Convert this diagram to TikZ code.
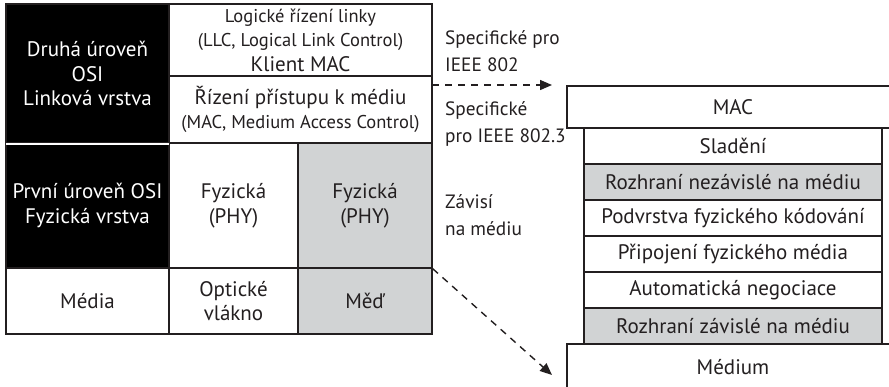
\documentclass[tikz,border=0pt]{standalone}
\usepackage{fontspec}
\setmainfont{PT Sans}
\usetikzlibrary{arrows.meta}
\definecolor{phygray}{RGB}{209,211,212}
\definecolor{inkgray}{RGB}{35,31,32}
\newcommand{\bigtxt}{\fontsize{21}{24.5}\selectfont}
\newcommand{\smalltxt}{\fontsize{18.5}{24}\selectfont}
\tikzset{
  cell/.style={draw=inkgray,line width=1.5pt,rectangle,inner sep=0pt,align=center,text=inkgray,font=\bigtxt},
  osicell/.style={cell,fill=black,text=white},
  graycell/.style={cell,fill=phygray},
  layer/.style={draw=inkgray,line width=1.2pt,rectangle,inner sep=0pt,minimum width=298pt,minimum height=36pt,text=inkgray,font=\bigtxt},
  graylayer/.style={layer,fill=phygray},
  endlayer/.style={layer,minimum width=332pt},
  note/.style={anchor=west,align=left,inner sep=0pt,text=inkgray,font=\fontsize{19.3}{27}\selectfont},
  dasharrow/.style={draw=inkgray,line width=1.4pt,dash pattern=on 7pt off 6pt,-{Triangle[length=12pt,width=10pt]}}
}
\begin{document}
\begin{tikzpicture}[x=1pt,y=-1pt]
\clip (0,0) rectangle (889,386);
\fill[white] (0,0) rectangle (889,386);
% OSI table
  \node[osicell,minimum width=163pt,minimum height=139pt] (osi2) at (87.5,73.5) {Druhá úroveň\\OSI\\Linková vrstva};
  \node[cell,minimum width=263pt,minimum height=72pt] (llc) at (300.5,40) {{\smalltxt Logické řízení linky}\\{\smalltxt (LLC, Logical Link Control)}\\Klient MAC};
  \node[cell,minimum width=263pt,minimum height=67pt] (mac) at (300.5,109.5) {Řízení přístupu k médiu\\{\smalltxt (MAC, Medium Access Control)}};
  \node[osicell,minimum width=163pt,minimum height=125pt] (osi1) at (87.5,205.5) {První úroveň OSI\\Fyzická vrstva};
  \node[cell,minimum width=129pt,minimum height=125pt] (phy1) at (233.5,205.5) {Fyzická\\(PHY)};
  \node[graycell,minimum width=134pt,minimum height=125pt] (phy2) at (365,205.5) {Fyzická\\(PHY)};
  \node[cell,minimum width=163pt,minimum height=66pt] (media) at (87.5,301) {Média};
  \node[cell,minimum width=129pt,minimum height=66pt] (fiber) at (233.5,301) {Optické\\vlákno};
  \node[graycell,minimum width=134pt,minimum height=66pt] (copper) at (365,301) {Měď};
  \draw[white,line width=1.5pt] ([xshift=0.75pt]osi2.south west) -- ([xshift=-0.75pt]osi2.south east);
% notes
  \node[note] (ieee802) at (445,51) {Specifické pro\\IEEE 802};
  \node[note] (ieee8023) at (445,124) {Specifické\\pro IEEE 802.3};
  \node[note] (medium) at (445,215) {Závisí\\na médiu};
% 802.3 stack
  \node[endlayer,minimum height=42pt] (stmac) at (733,107) {MAC};
  \node[layer] (recon) at (733,146) {Sladění};
  \node[graylayer] (mii) at (733,182) {Rozhraní nezávislé na médiu};
  \node[layer] (pcs) at (733,218) {Podvrstva fyzického kódování};
  \node[layer] (pma) at (733,254) {Připojení fyzického média};
  \node[layer] (autoneg) at (733,290) {Automatická negociace};
  \node[graylayer] (mdi) at (733,326) {Rozhraní závislé na médiu};
  \node[endlayer,minimum height=46pt] (stmedium) at (733,367) {Médium};
% arrows
  \coordinate (macedge) at (432,85);
  \coordinate (mactip) at (552,85);
  \coordinate (medtip) at (552,375);
  \draw[dasharrow] (macedge) -- (mactip);
  \draw[dasharrow] (phy2.south east) -- (medtip);
\end{tikzpicture}
\end{document}
